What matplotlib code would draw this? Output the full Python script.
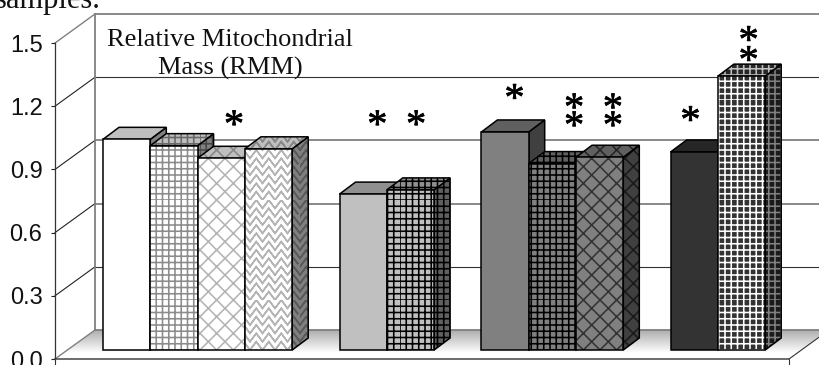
#!/usr/bin/env python
"""Relative mitochondrial mass, pseudo-3D hatched bars in greyscale."""
import matplotlib
matplotlib.use("Agg")
import matplotlib.hatch as mhatch
import matplotlib.patheffects as pe
import matplotlib.pyplot as plt
import numpy as np
from matplotlib.patches import Polygon
from matplotlib.path import Path

# one value per bar, slots with no bar separate the groups
slots = [0, 1, 2, 3, 5, 6, 8, 9, 10, 12, 13]
values = [1.00, 0.97, 0.91, 0.955, 0.74, 0.76, 1.035, 0.885, 0.915, 0.94, 1.30]
faces = ["#ffffff", "#ffffff", "#ffffff", "#ffffff", "#c0c0c0", "#c0c0c0",
         "#808080", "#808080", "#808080", "#333333", "#333333"]
hatches = ["", "g", "xx", "z", "", "g", "", "g", "xx", "", "g"]
hatch_colors = ["#ffffff", "#8c8c8c", "#b4b4b4", "#b4b4b4", "#c0c0c0", "#000000",
                "#808080", "#000000", "#333333", "#333333", "#ffffff"]

y_ticks = [0.0, 0.3, 0.6, 0.9, 1.2, 1.5]
y_labels = ["0.0", "0.3", "0.6", "0.9", "1.2", "1.5"]

# asterisks: slot position, height on the value axis
star_x = [2.77, 5.8, 6.62, 8.7, 9.96, 9.96, 10.78, 10.78, 12.42, 13.65, 13.65]
star_y = [1.10, 1.10, 1.10, 1.225, 1.18, 1.095, 1.18, 1.095, 1.12, 1.50, 1.405]

W, H = 819, 365
PX_X = 47.3   # px per slot
PX_Y = 210.7  # px per 1.0 on the value axis


class ZigZag(mhatch.HatchPatternBase):
    """Stacked zigzag lines, walked there and back so the fill stays empty."""

    def __init__(self, hatch, density):
        self.num_rows = hatch.count("z") * 12
        self.num_vertices = self.num_rows * 33

    def set_vertices_and_codes(self, vertices, codes):
        if not self.num_rows:
            return
        step = 1.0 / self.num_rows
        xs = np.linspace(0, 1, 17)
        i = 0
        for row in range(self.num_rows):
            ys = row * step + step * (np.arange(17) % 2)
            walk = np.column_stack([xs, ys])
            vertices[i:i + 33] = np.vstack([walk, walk[-2::-1]])
            codes[i:i + 33] = [Path.MOVETO] + [Path.LINETO] * 32
            i += 33


class Grid(mhatch.HatchPatternBase):
    """Square grid a little coarser than '+++'."""

    def __init__(self, hatch, density):
        self.num_lines = hatch.count("g") * 16
        self.num_vertices = self.num_lines * 4

    def set_vertices_and_codes(self, vertices, codes):
        if not self.num_lines:
            return
        steps = np.linspace(0, 1, self.num_lines, endpoint=False)
        i = 0
        for s in steps:
            vertices[i:i + 4] = [(s, 0), (s, 1), (0, s), (1, s)]
            codes[i:i + 4] = [Path.MOVETO, Path.LINETO, Path.MOVETO, Path.LINETO]
            i += 4


mhatch._hatch_types.extend([ZigZag, Grid])


def shade(color, factor):
    rgb = np.array(matplotlib.colors.to_rgb(color)) * factor
    return tuple(rgb)


def hatched_poly(ax, pts, face, hatch, hcolor, z):
    if hatch:
        ax.add_patch(Polygon(pts, closed=True, facecolor=face, edgecolor=hcolor,
                             hatch=hatch, lw=0, zorder=z, clip_on=False))
    else:
        ax.add_patch(Polygon(pts, closed=True, facecolor=face, edgecolor="none",
                             zorder=z, clip_on=False))
    ax.add_patch(Polygon(pts, closed=True, fill=False, edgecolor="black", lw=1.1,
                         joinstyle="miter", zorder=z + 0.1, clip_on=False))


plt.rcParams["hatch.linewidth"] = 1.15
fig = plt.figure(figsize=(W / 100, H / 100), dpi=100)
ax = fig.add_axes([55 / W, (H - 359) / H, (789 - 55) / W, 316 / H])

x_left = (55 - 103) / PX_X
x_right = (789 - 103) / PX_X

wall_dx, wall_dy = 40 / PX_X, 29 / PX_Y
depth_dx, depth_dy = 16 / PX_X, 12 / PX_Y
base = 9 / PX_Y

# floor with the grey to white fade
floor = Polygon([(x_left, 0), (x_left + wall_dx, wall_dy),
                 (x_right + wall_dx, wall_dy), (x_right, 0)],
                closed=True, facecolor="none", edgecolor="none")
ax.add_patch(floor)
fade = ax.imshow(np.linspace(0.68, 1.0, 64).reshape(-1, 1), cmap="gray", vmin=0, vmax=1,
                 extent=[x_left, x_right + wall_dx, 0.03, wall_dy], origin="upper",
                 aspect="auto", zorder=0.5)
fade.set_clip_box(fig.bbox)
fade.set_clip_path(floor)
ax.set_xlim(x_left, x_right)
ax.set_ylim(0, 1.5)
ax.set_autoscale_on(False)

# back wall and gridlines
for i, tick in enumerate(y_ticks):
    dark = i in (1, 4)
    col, lw = ("#333333", 0.8) if dark else ("#808080", 1.3)
    back = tick + wall_dy
    ax.plot([x_left + wall_dx, x_right + wall_dx], [back, back], color=col, lw=lw,
            zorder=1, clip_on=False)
    ax.plot([x_left, x_left + wall_dx], [tick, back],
            color="#808080" if i in (0, 5) else "#222222", lw=1.0 if i in (0, 5) else 0.8,
            zorder=1, clip_on=False)
ax.plot([x_left + wall_dx] * 2, [wall_dy, 1.5 + wall_dy], color="#808080", lw=1.3,
        zorder=1, clip_on=False)
ax.plot([x_right, x_right + wall_dx], [0, wall_dy], color="#333333", lw=0.8,
        zorder=1, clip_on=False)

# bars, left to right so each one sits over its neighbour's side
for k, (s, v, fc, ht, hc) in enumerate(zip(slots, values, faces, hatches, hatch_colors)):
    z = 2 + k
    x0, x1 = s, s + 1
    y0, y1 = base, base + v
    side = [(x1, y0), (x1 + depth_dx, y0 + depth_dy), (x1 + depth_dx, y1 + depth_dy), (x1, y1)]
    top = [(x0, y1), (x0 + depth_dx, y1 + depth_dy), (x1 + depth_dx, y1 + depth_dy), (x1, y1)]
    front = [(x0, y0), (x1, y0), (x1, y1), (x0, y1)]
    hatched_poly(ax, side, shade(fc, 0.5), ht, shade(hc, 0.5), z)
    hatched_poly(ax, top, shade(fc, 0.75), ht, shade(hc, 0.75), z + 0.2)
    hatched_poly(ax, front, fc, ht, hc, z + 0.4)

ax.set_yticks(y_ticks)
ax.set_yticklabels(y_labels, fontsize=17, family="Liberation Sans", color="#111111")
ax.set_xticks([x_left, x_right])
ax.set_xticklabels(["", ""])
ax.tick_params(axis="y", length=3, width=0.8, pad=6, color="#222222")
ax.tick_params(axis="x", length=5, width=0.8, color="#333333")
for name in ("top", "right"):
    ax.spines[name].set_visible(False)
ax.spines["left"].set_color("#333333")
ax.spines["left"].set_linewidth(0.9)
ax.spines["bottom"].set_color("#444444")
ax.spines["bottom"].set_linewidth(1.1)
ax.patch.set_visible(False)

for sx, sy in zip(star_x, star_y):
    ax.text(sx, sy, "*", family="Liberation Serif", fontsize=29, ha="center",
            va="center", color="black", zorder=30,
            path_effects=[pe.withStroke(linewidth=0.5, foreground="black")])

fig.text(107 / W, 1 - 46 / H, "Relative Mitochondrial", family="Liberation Serif",
         fontsize=19, ha="left", va="baseline", color="#111111", zorder=31)
fig.text(230 / W, 1 - 75 / H, "Mass (RMM)", family="Liberation Serif",
         fontsize=19, ha="center", va="baseline", color="#111111", zorder=31)
fig.text(101 / W, 1 - 8 / H, "samples.", family="Liberation Serif",
         fontsize=22, ha="right", va="baseline", color="#111111")

fig.savefig("out.png", dpi=100, facecolor="white")
